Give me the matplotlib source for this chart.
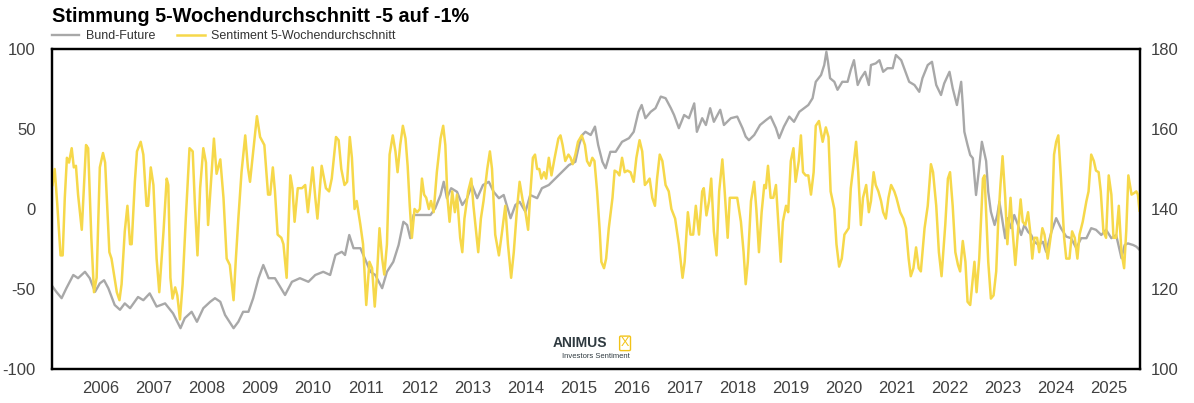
"""
Stimmung 5-Wochendurchschnitt vs. Bund-Future.
"""
import matplotlib
matplotlib.use("Agg")
import matplotlib.pyplot as plt

plt.rcParams["font.family"] = ["Liberation Sans", "DejaVu Sans"]
plt.rcParams["axes.unicode_minus"] = False

# --- DATA (decimal years) --- #
sent_dates = [
    2005.09, 2005.13, 2005.18, 2005.24, 2005.28, 2005.32, 2005.36, 2005.40, 2005.45, 2005.49,
    2005.53, 2005.57, 2005.64, 2005.67, 2005.72, 2005.76, 2005.82, 2005.87, 2005.92, 2005.98,
    2006.04, 2006.08, 2006.16, 2006.20, 2006.30, 2006.35, 2006.39, 2006.45, 2006.50, 2006.55,
    2006.58, 2006.64, 2006.68, 2006.75, 2006.80, 2006.86, 2006.89, 2006.94, 2006.99, 2007.05,
    2007.10, 2007.18, 2007.24, 2007.27, 2007.31, 2007.35, 2007.40, 2007.44, 2007.49, 2007.54,
    2007.60, 2007.67, 2007.73, 2007.77, 2007.82, 2007.87, 2007.93, 2007.98, 2008.02, 2008.08,
    2008.13, 2008.18, 2008.25, 2008.31, 2008.37, 2008.43, 2008.50, 2008.54, 2008.59, 2008.65,
    2008.72, 2008.77, 2008.81, 2008.87, 2008.94, 2009.00, 2009.08, 2009.15, 2009.19, 2009.24,
    2009.28, 2009.33, 2009.40, 2009.44, 2009.50, 2009.57, 2009.61, 2009.65, 2009.71, 2009.79,
    2009.85, 2009.90, 2009.99, 2010.04, 2010.08, 2010.16, 2010.24, 2010.30, 2010.35, 2010.43,
    2010.48, 2010.53, 2010.59, 2010.64, 2010.69, 2010.73, 2010.78, 2010.82, 2010.89, 2010.94,
    2011.00, 2011.06, 2011.11, 2011.16, 2011.20, 2011.25, 2011.30, 2011.34, 2011.39, 2011.44,
    2011.50, 2011.55, 2011.59, 2011.64, 2011.69, 2011.74, 2011.78, 2011.82, 2011.86, 2011.91,
    2011.96, 2012.01, 2012.05, 2012.09, 2012.13, 2012.18, 2012.22, 2012.27, 2012.33, 2012.40,
    2012.45, 2012.49, 2012.53, 2012.57, 2012.62, 2012.67, 2012.71, 2012.77, 2012.81, 2012.85,
    2012.92, 2012.98, 2013.02, 2013.07, 2013.11, 2013.16, 2013.21, 2013.28, 2013.33, 2013.37,
    2013.43, 2013.50, 2013.56, 2013.62, 2013.67, 2013.73, 2013.78, 2013.84, 2013.89, 2013.95,
    2014.00, 2014.05, 2014.09, 2014.14, 2014.18, 2014.22, 2014.26, 2014.30, 2014.35, 2014.39,
    2014.44, 2014.49, 2014.55, 2014.62, 2014.66, 2014.70, 2014.75, 2014.81, 2014.85, 2014.89,
    2014.94, 2014.99, 2015.06, 2015.12, 2015.16, 2015.21, 2015.26, 2015.30, 2015.35, 2015.40,
    2015.43, 2015.48, 2015.52, 2015.57, 2015.64, 2015.68, 2015.73, 2015.77, 2015.82, 2015.87,
    2015.92, 2015.98, 2016.04, 2016.09, 2016.15, 2016.20, 2016.25, 2016.30, 2016.34, 2016.39,
    2016.44, 2016.48, 2016.53, 2016.58, 2016.64, 2016.70, 2016.75, 2016.82, 2016.89, 2016.96,
    2017.00, 2017.06, 2017.11, 2017.16, 2017.21, 2017.27, 2017.33, 2017.36, 2017.41, 2017.46,
    2017.50, 2017.55, 2017.60, 2017.65, 2017.71, 2017.75, 2017.81, 2017.85, 2017.93, 2017.99,
    2018.06, 2018.11, 2018.15, 2018.19, 2018.25, 2018.31, 2018.35, 2018.40, 2018.45, 2018.50,
    2018.53, 2018.57, 2018.62, 2018.67, 2018.72, 2018.77, 2018.81, 2018.85, 2018.91, 2018.95,
    2019.00, 2019.05, 2019.09, 2019.15, 2019.19, 2019.23, 2019.28, 2019.33, 2019.38, 2019.43,
    2019.47, 2019.53, 2019.60, 2019.66, 2019.71, 2019.75, 2019.82, 2019.86, 2019.91, 2019.96,
    2020.01, 2020.05, 2020.09, 2020.13, 2020.18, 2020.23, 2020.27, 2020.32, 2020.36, 2020.42,
    2020.47, 2020.51, 2020.56, 2020.60, 2020.65, 2020.70, 2020.74, 2020.79, 2020.84, 2020.89,
    2020.95, 2020.99, 2021.06, 2021.12, 2021.17, 2021.22, 2021.26, 2021.31, 2021.36, 2021.41,
    2021.45, 2021.52, 2021.58, 2021.64, 2021.68, 2021.74, 2021.79, 2021.84, 2021.91, 2021.96,
    2022.00, 2022.05, 2022.10, 2022.15, 2022.19, 2022.24, 2022.29, 2022.33, 2022.38, 2022.43,
    2022.46, 2022.50, 2022.55, 2022.62, 2022.65, 2022.68, 2022.72, 2022.77, 2022.82, 2022.87,
    2022.91, 2022.95, 2022.99, 2023.04, 2023.08, 2023.14, 2023.18, 2023.23, 2023.28, 2023.33,
    2023.37, 2023.42, 2023.47, 2023.51, 2023.55, 2023.59, 2023.64, 2023.68, 2023.74, 2023.78,
    2023.84, 2023.91, 2023.96, 2024.00, 2024.04, 2024.09, 2024.15, 2024.19, 2024.25, 2024.30,
    2024.35, 2024.40, 2024.44, 2024.50, 2024.57, 2024.61, 2024.66, 2024.71, 2024.75, 2024.80,
    2024.84, 2024.89, 2024.94, 2024.99, 2025.04, 2025.08, 2025.13, 2025.18, 2025.23, 2025.28,
    2025.32, 2025.36, 2025.42, 2025.47, 2025.51, 2025.54, 2025.57,
]
sent_values = [
    15, 25, 2, -29, -29, 7, 32, 29, 38, 26,
    27, 9, -13, 7, 40, 38, -18, -52, -43, 26,
    35, 29, -27, -31, -52, -57, -47, -14, 2, -22,
    -22, 17, 36, 42, 34, 2, 2, 26, 15, -31,
    -52, -14, 19, 15, -43, -56, -49, -54, -69, -47,
    -6, 38, 36, 4, -29, 13, 38, 29, -10, 19,
    44, 22, 31, 7, -31, -35, -57, -33, -6, 23,
    46, 26, 17, 36, 58, 45, 40, 9, 9, 26,
    11, -16, -18, -22, -43, 21, 13, -8, 13, 13,
    15, -2, 26, 7, -6, 27, 13, 11, 19, 45,
    43, 25, 15, 17, 45, 32, 0, 5, -10, -22,
    -60, -33, -37, -61, -43, -12, -31, -41, -22, 34,
    46, 36, 23, 40, 52, 44, 27, 2, -18, 0,
    -2, 0, 19, 9, 7, 0, 5, -2, 23, 44,
    52, 40, 7, -8, 11, -2, 9, -18, -27, -6,
    11, 19, 2, -14, -27, -6, 5, 25, 36, 25,
    -16, -29, -14, 2, -22, -43, -27, 0, 17, 5,
    -2, -13, 9, 32, 34, 25, 25, 19, 23, 19,
    32, 21, 32, 44, 46, 40, 30, 34, 32, 28,
    34, 42, 46, 40, 30, 27, 32, 30, 11, -14,
    -33, -37, -31, -12, 7, 24, 23, 21, 32, 23,
    24, 23, 17, 32, 43, 36, 15, 17, 19, 7,
    2, 19, 34, 30, 15, 11, 0, -6, -22, -43,
    -33, -2, -16, -16, 2, -16, 11, 13, -4, 5,
    19, -14, -29, 11, 31, 13, -18, 7, 7, 7,
    -8, -27, -47, -33, 5, 17, 0, -27, -2, 15,
    13, 27, 7, 7, 15, -12, -33, -8, 2, -2,
    30, 38, 17, 30, 46, 23, 21, 21, 9, 23,
    52, 55, 42, 51, 45, 11, 0, -22, -36, -31,
    -16, -14, -12, 13, 27, 42, 23, -10, 7, 15,
    -2, 5, 23, 15, 11, 5, -2, -6, 7, 15,
    11, 7, -2, -6, -12, -31, -42, -37, -24, -37,
    -39, -12, 2, 28, 23, 2, -27, -42, -10, 19,
    23, 2, -27, -35, -39, -20, -33, -58, -60, -43,
    -33, -52, -31, 19, 21, -2, -33, -56, -54, -39,
    -6, 15, 33, 7, -22, 7, -14, -35, -14, 6,
    -8, -10, -2, -14, -31, -18, -18, -27, -12, -16,
    -31, -14, 34, 42, 46, 19, -18, -31, -31, -14,
    -18, -31, -16, -8, 5, 11, 34, 30, 24, 23,
    11, -14, -18, 21, 9, -18, -18, 2, -27, -37,
    -14, 21, 9, 10, 11, 9, -1,
]

bund_dates = [
    2005.09, 2005.16, 2005.26, 2005.35, 2005.48, 2005.57, 2005.70, 2005.79, 2005.89, 2005.98,
    2006.06, 2006.14, 2006.26, 2006.36, 2006.45, 2006.55, 2006.70, 2006.80, 2006.92, 2007.05,
    2007.21, 2007.36, 2007.50, 2007.58, 2007.71, 2007.81, 2007.93, 2008.06, 2008.15, 2008.25,
    2008.34, 2008.50, 2008.59, 2008.68, 2008.78, 2008.87, 2008.97, 2009.06, 2009.16, 2009.28,
    2009.47, 2009.60, 2009.75, 2009.91, 2010.04, 2010.19, 2010.32, 2010.42, 2010.54, 2010.60,
    2010.68, 2010.76, 2010.89, 2010.97, 2011.08, 2011.17, 2011.30, 2011.39, 2011.51, 2011.61,
    2011.70, 2011.77, 2011.83, 2011.89, 2011.99, 2012.08, 2012.21, 2012.30, 2012.40, 2012.46,
    2012.52, 2012.60, 2012.71, 2012.81, 2012.90, 2012.99, 2013.09, 2013.20, 2013.31, 2013.40,
    2013.50, 2013.59, 2013.72, 2013.81, 2013.89, 2014.00, 2014.09, 2014.22, 2014.31, 2014.44,
    2014.57, 2014.69, 2014.82, 2014.94, 2015.01, 2015.07, 2015.13, 2015.23, 2015.31, 2015.37,
    2015.45, 2015.51, 2015.60, 2015.70, 2015.82, 2015.95, 2016.04, 2016.13, 2016.19, 2016.26,
    2016.36, 2016.45, 2016.55, 2016.64, 2016.74, 2016.80, 2016.89, 2016.99, 2017.08, 2017.18,
    2017.23, 2017.33, 2017.40, 2017.48, 2017.55, 2017.67, 2017.74, 2017.87, 2017.99, 2018.09,
    2018.15, 2018.21, 2018.31, 2018.42, 2018.53, 2018.62, 2018.72, 2018.78, 2018.87, 2018.97,
    2019.06, 2019.16, 2019.25, 2019.33, 2019.41, 2019.47, 2019.57, 2019.63, 2019.67, 2019.70,
    2019.74, 2019.82, 2019.88, 2019.97, 2020.07, 2020.13, 2020.19, 2020.26, 2020.32, 2020.40,
    2020.47, 2020.51, 2020.60, 2020.67, 2020.74, 2020.82, 2020.92, 2020.98, 2021.08, 2021.16,
    2021.23, 2021.33, 2021.42, 2021.48, 2021.58, 2021.66, 2021.74, 2021.83, 2021.89, 2021.99,
    2022.05, 2022.13, 2022.21, 2022.24, 2022.27, 2022.33, 2022.38, 2022.43, 2022.49, 2022.54,
    2022.60, 2022.68, 2022.72, 2022.77, 2022.84, 2022.89, 2022.93, 2022.98, 2023.04, 2023.09,
    2023.15, 2023.21, 2023.28, 2023.34, 2023.40, 2023.47, 2023.53, 2023.59, 2023.67, 2023.75,
    2023.81, 2023.91, 2024.00, 2024.09, 2024.19, 2024.28, 2024.38, 2024.47, 2024.57, 2024.66,
    2024.75, 2024.85, 2024.94, 2025.04, 2025.13, 2025.23, 2025.29, 2025.35, 2025.45, 2025.51,
    2025.57,
]
bund_values = [
    120.6, 119.3, 117.7, 120.2, 123.5, 122.7, 124.3, 122.7, 119.3, 121.4,
    122.2, 120.2, 116.0, 114.8, 116.4, 115.2, 118.0, 117.2, 118.9, 115.6,
    116.4, 113.9, 110.2, 112.7, 114.3, 111.8, 115.2, 116.8, 117.7, 116.8,
    113.5, 110.2, 111.8, 114.3, 114.3, 117.7, 122.7, 126.0, 122.7, 122.7,
    118.5, 121.8, 122.7, 121.8, 123.5, 124.3, 123.5, 128.5, 129.3, 128.5,
    133.5, 130.2, 130.2, 127.7, 124.3, 123.5, 120.2, 124.3, 126.8, 131.0,
    136.8, 136.0, 132.7, 138.5, 138.5, 138.5, 138.5, 140.2, 143.5, 146.8,
    142.7, 145.2, 144.3, 141.0, 142.7, 146.0, 142.7, 146.0, 146.8, 144.3,
    142.7, 143.5, 137.7, 141.0, 141.8, 139.3, 143.5, 142.7, 145.2, 146.0,
    147.7, 149.3, 151.0, 151.8, 156.0, 158.5, 159.3, 158.5, 160.6, 156.0,
    151.8, 150.2, 154.3, 154.3, 156.8, 157.7, 159.3, 164.3, 166.0, 162.7,
    164.3, 165.2, 168.1, 167.7, 165.2, 163.5, 160.2, 163.5, 162.7, 166.4,
    159.3, 162.7, 161.0, 165.2, 161.8, 164.8, 161.0, 162.7, 163.1, 160.2,
    158.1, 157.2, 158.5, 161.0, 162.2, 163.1, 160.2, 157.7, 160.6, 163.1,
    161.8, 164.3, 165.2, 166.0, 167.7, 171.8, 173.5, 176.0, 179.3, 176.8,
    172.7, 171.8, 169.8, 171.8, 171.8, 174.8, 177.2, 171.0, 172.7, 174.3,
    171.0, 176.0, 176.4, 177.2, 174.3, 175.2, 175.2, 178.5, 177.2, 174.3,
    171.8, 171.0, 169.3, 172.7, 176.0, 176.8, 171.0, 168.5, 171.4, 174.3,
    170.2, 166.0, 171.8, 166.0, 159.3, 156.0, 153.5, 152.7, 143.5, 149.3,
    156.8, 152.0, 144.3, 139.3, 136.0, 138.5, 141.8, 137.7, 132.7, 137.7,
    135.2, 138.5, 136.0, 133.5, 136.0, 134.3, 133.5, 131.8, 131.0, 131.8,
    129.3, 134.3, 137.7, 135.2, 133.1, 132.7, 130.2, 132.7, 132.7, 135.2,
    134.8, 133.5, 134.8, 132.7, 133.5, 127.7, 131.0, 131.4, 131.0, 130.6,
    129.8,
]

years = list(range(2006, 2026))
left_ticks = [-100, -50, 0, 50, 100]
right_ticks = [100, 120, 140, 160, 180]

# --- FIGURE AND AXES --- #
fig = plt.figure(figsize=(11.94, 4.03), dpi=100)
ax = fig.add_axes([0.0436, 0.0844, 0.9112, 0.794])
ax2 = ax.twinx()
ax.set_zorder(ax2.get_zorder() + 1)
ax.patch.set_visible(False)

# --- THE LINES --- #
bund_line, = ax2.plot(bund_dates, bund_values, color="#a8a8a8", linewidth=1.7)
sent_line, = ax.plot(sent_dates, sent_values, color="#f6d84a", linewidth=1.8)

ax.set_xlim(2005.08, 2025.58)
ax.set_ylim(-100, 100)
ax2.set_ylim(100, 180)
ax.set_xticks(years)
ax.set_xticklabels([str(y) for y in years])
ax.set_yticks(left_ticks)
ax2.set_yticks(right_ticks)

ax.tick_params(axis="both", length=0, labelsize=12, labelcolor="#404040")
ax.tick_params(axis="y", pad=12)
ax.tick_params(axis="x", pad=9)
ax2.tick_params(axis="y", length=0, labelsize=12, labelcolor="#404040", pad=8)

for a in (ax, ax2):
    for side in ("left", "right", "top", "bottom"):
        a.spines[side].set_color("black")
        a.spines[side].set_linewidth(1.6)

# --- TITLE AND LEGEND --- #
fig.text(0.0436, 0.96, "Stimmung 5-Wochendurchschnitt -5 auf -1%",
         fontsize=14.3, fontweight="bold", va="center", ha="left")
fig.legend([bund_line, sent_line], ["Bund-Future", "Sentiment 5-Wochendurchschnitt"],
           loc="center left", bbox_to_anchor=(0.034, 0.91), ncol=2, frameon=False,
           fontsize=9, handlelength=2.2, columnspacing=1.8, handletextpad=0.5,
           labelcolor="#333333")

# --- LOGO --- #
fig.text(0.4855, 0.148, "ANIMUS", fontsize=10, fontweight="bold", color="#2f3a40",
         ha="center", va="center")
fig.text(0.5235, 0.148, "X", fontsize=9, color="#f2c318", ha="center", va="center",
         bbox=dict(boxstyle="round,pad=0.1", fc="none", ec="#f2c318", lw=1))
fig.text(0.499, 0.116, "Investors Sentiment", fontsize=5.5, color="#2f3a40",
         ha="center", va="center")

plt.savefig("out.png", dpi=100)
